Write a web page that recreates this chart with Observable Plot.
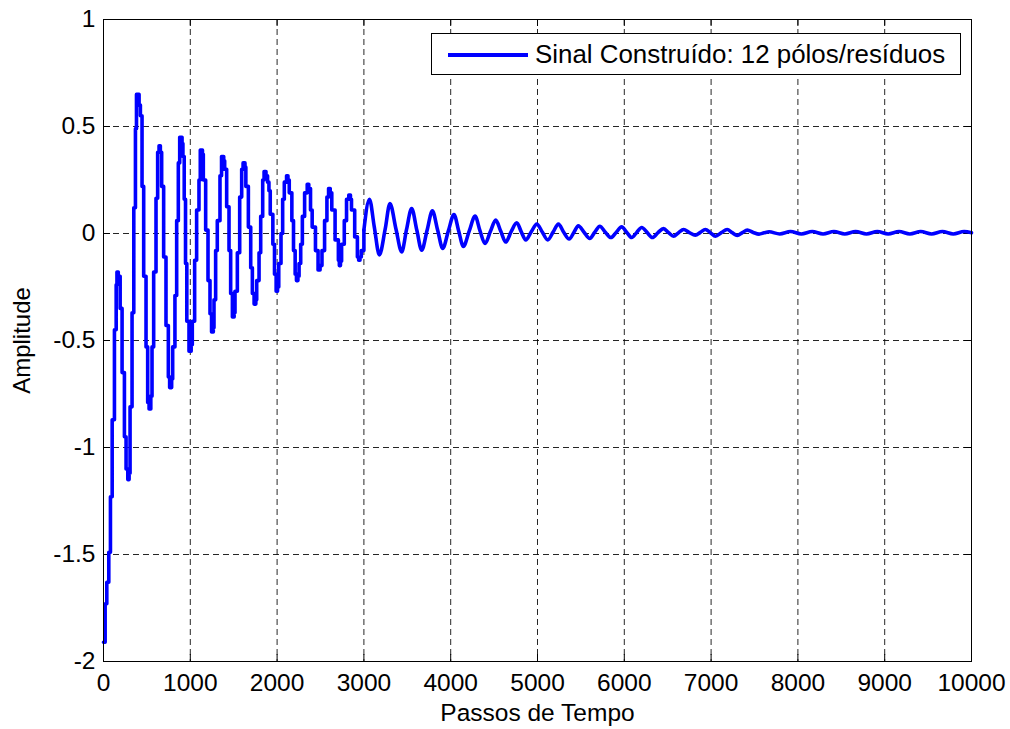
<!DOCTYPE html>
<html>
<head>
<meta charset="utf-8">
<script src="https://cdn.jsdelivr.net/npm/d3@7"></script>
<script src="https://cdn.jsdelivr.net/npm/@observablehq/plot@0.6"></script>
<style>
  html, body { margin: 0; padding: 0; background: #fff; }
  #wrap { position: relative; width: 1010px; height: 729px; font-family: "Liberation Sans", Arial, sans-serif; }
  #legend { position: absolute; left: 431px; top: 33px; width: 530px; height: 42px; box-sizing: border-box;
            border: 1px solid #000; background: #fff; }
  #legend .swatch { position: absolute; left: 16px; top: 19px; width: 80px; height: 3.5px; background: #0000ff; }
  #legend .lab { position: absolute; left: 103px; top: 0; height: 40px; line-height: 40px; font-size: 25.9px; color: #000; white-space: nowrap; }
</style>
</head>
<body>
<div id="wrap"></div>
<script>
// ---- data ----
const xTicks = [0, 1000, 2000, 3000, 4000, 5000, 6000, 7000, 8000, 9000, 10000];
const yTicks = [-2, -1.5, -1, -0.5, 0, 0.5, 1];
const xLabel = "Passos de Tempo";
const yLabel = "Amplitude";
const legendLabel = "Sinal Construído: 12 pólos/resíduos";

// early part of the signal (staircase shape), time step and amplitude
const earlySteps = [0, 19, 38, 61, 80, 100, 126, 146, 155, 170, 192, 214, 241, 260, 280, 295, 306, 329, 349, 368,
  380, 410, 425, 444, 463, 490, 509, 525, 545, 559, 578, 605, 624, 640, 655, 670, 693, 720, 747, 762,
  785, 797, 823, 843, 862, 878, 905, 915, 930, 945, 960, 985, 1010, 1023, 1050, 1073, 1100, 1115, 1140, 1150,
  1177, 1204, 1227, 1245, 1265, 1273, 1292, 1311, 1342, 1360, 1385, 1396, 1419, 1446, 1465, 1485, 1505, 1515, 1542, 1569,
  1592, 1608, 1630, 1640, 1669, 1696, 1715, 1735, 1755, 1765, 1792, 1811, 1834, 1850, 1872, 1890, 1906, 1921, 1951, 1970,
  1989, 2005, 2019, 2045, 2064, 2083, 2109, 2125, 2140, 2170, 2189, 2208, 2223, 2240, 2253, 2272, 2291, 2317, 2347, 2365,
  2385, 2404, 2442, 2472, 2495, 2517, 2547, 2574, 2593, 2612, 2630, 2668, 2706, 2717, 2730, 2743, 2774, 2800, 2826, 2845,
  2857, 2894, 2925, 2940, 2955, 2970, 3000];
const earlyValues = [-1.91, -1.73, -1.63, -1.49, -1.23, -0.87, -0.45, -0.24, -0.18, -0.20, -0.35, -0.65, -0.95, -1.10, -1.15, -1.12, -0.81, -0.37, 0.12, 0.49,
  0.65, 0.60, 0.55, 0.22, -0.20, -0.53, -0.79, -0.82, -0.76, -0.53, -0.18, 0.165, 0.38, 0.41, 0.38, 0.22, -0.11, -0.43, -0.67, -0.72,
  -0.68, -0.53, -0.29, 0.06, 0.33, 0.45, 0.42, 0.36, 0.16, -0.14, -0.41, -0.55, -0.52, -0.41, -0.125, 0.11, 0.25, 0.39, 0.37, 0.25,
  0.016, -0.22, -0.375, -0.46, -0.44, -0.31, -0.08, 0.06, 0.27, 0.36, 0.34, 0.30, 0.125, -0.08, -0.28, -0.39, -0.37, -0.27, -0.09, 0.17,
  0.30, 0.33, 0.31, 0.22, 0.03, -0.16, -0.28, -0.33, -0.31, -0.22, -0.09, 0.08, 0.25, 0.29, 0.27, 0.24, 0.20, 0.09, -0.05, -0.19,
  -0.27, -0.25, -0.14, 0.0, 0.16, 0.24, 0.27, 0.25, 0.19, 0.06, -0.08, -0.19, -0.22, -0.20, -0.14, -0.05, 0.08, 0.19, 0.23, 0.21,
  0.11, 0.03, -0.08, -0.17, -0.15, -0.08, 0.06, 0.17, 0.21, 0.19, 0.11, -0.03, -0.125, -0.15, -0.13, -0.05, 0.06, 0.16, 0.18, 0.16,
  0.11, -0.016, -0.11, -0.125, -0.11, -0.08, 0.016];

// later part of the signal (smooth decaying oscillation)
const lateSteps = [3000, 3064, 3120, 3178, 3245, 3300, 3370, 3435, 3492, 3550, 3610, 3666, 3728, 3789, 3850, 3908, 3973, 4038, 4092, 4146,
  4214, 4281, 4338, 4396, 4458, 4519, 4577, 4634, 4698, 4761, 4813, 4865, 4928, 4992, 5055, 5118, 5180, 5241, 5300, 5365,
  5420, 5470, 5536, 5602, 5660, 5718, 5782, 5846, 5908, 5969, 6027, 6085, 6143, 6201, 6262, 6324, 6388, 6452, 6510, 6567,
  6625, 6683, 6750, 6818, 6876, 6934, 6992, 7050, 7118, 7185, 7243, 7301, 7360, 7417, 7485, 7552, 7610, 7668, 7790, 7915,
  8040, 8165, 8290, 8415, 8540, 8665, 8790, 8915, 9040, 9165, 9290, 9415, 9540, 9665, 9790, 9915, 10000];
const lateValues = [0.016, 0.16, 0.03, -0.10, 0.02, 0.14, 0.02, -0.086, 0.02, 0.117, 0.015, -0.078, 0.015, 0.106, 0.015, -0.07, 0.012, 0.089, 0.012, -0.06,
  0.012, 0.081, 0.012, -0.047, 0.01, 0.0625, 0.01, -0.04, 0.01, 0.05, 0.008, -0.03, 0.008, 0.044, 0.007, -0.03, 0.007, 0.044, 0.007, -0.026,
  0.006, 0.036, 0.006, -0.023, 0.006, 0.034, 0.006, -0.019, 0.006, 0.031, 0.006, -0.019, 0.005, 0.028, 0.005, -0.019, 0.004, 0.023, 0.004, -0.0125,
  0.004, 0.019, 0.004, -0.008, 0.005, 0.019, 0.004, -0.0125, 0.004, 0.019, 0.004, -0.009, 0.004, 0.016, 0.005, -0.003, 0.003, 0.008, -0.002, 0.009,
  -0.002, 0.009, -0.002, 0.009, -0.002, 0.009, -0.002, 0.009, -0.002, 0.009, -0.002, 0.009, -0.002, 0.009, -0.002, 0.009, 0.003];

// ---- tables built from the arrays ----
const early = earlySteps.map((s, i) => ({step: s, amp: earlyValues[i]}));
const late = lateSteps.map((s, i) => ({step: s, amp: lateValues[i]}));

const blue = "#0000ff";
const chart = Plot.plot({
  width: 1010,
  height: 729,
  marginLeft: 103,
  marginRight: 39,
  marginTop: 19,
  marginBottom: 68,
  x: {domain: [xTicks[0], xTicks[xTicks.length - 1]]},
  y: {domain: [yTicks[0], yTicks[yTicks.length - 1]]},
  style: {fontFamily: "'Liberation Sans', Arial, sans-serif", fontSize: "24.5px", background: "#fff", color: "#000"},
  marks: [
    // dashed grid
    Plot.ruleX(xTicks.slice(1, -1), {stroke: "#000", strokeOpacity: 0.85, strokeWidth: 1, strokeDasharray: "6,4"}),
    Plot.ruleY(yTicks.slice(1, -1), {stroke: "#000", strokeOpacity: 0.85, strokeWidth: 1, strokeDasharray: "6,4"}),
    // inward ticks on all four sides
    Plot.ruleX(xTicks, {y1: yTicks[0], y2: yTicks[yTicks.length - 1], stroke: "#000", strokeDasharray: "7,628,7"}),
    Plot.ruleY(yTicks, {x1: xTicks[0], x2: xTicks[xTicks.length - 1], stroke: "#000", strokeDasharray: "7,854,7"}),
    // signal
    Plot.line(early, {x: "step", y: "amp", curve: "step-after", stroke: blue, strokeWidth: 3.6, strokeLinejoin: "round"}),
    Plot.line(late, {x: "step", y: "amp", curve: "monotone-x", stroke: blue, strokeWidth: 3.6, strokeLinejoin: "round"}),
    Plot.frame({stroke: "#000", strokeWidth: 1}),
    // tick labels
    Plot.axisX(xTicks, {tickSize: 0, tickPadding: 12, tickFormat: d => String(d), label: null, fontSize: 24.5}),
    Plot.axisY(yTicks, {tickSize: 0, tickPadding: 8, tickFormat: d => String(d), label: null, fontSize: 24.5}),
    // axis titles
    Plot.text([xLabel], {frameAnchor: "bottom", dy: 59, fontSize: 24.5, textAnchor: "middle"}),
    Plot.text([yLabel], {frameAnchor: "left", dx: -81, rotate: -90, fontSize: 24, textAnchor: "middle"})
  ]
});

const wrap = document.getElementById("wrap");
wrap.appendChild(chart);
const legend = document.createElement("div");
legend.id = "legend";
const sw = document.createElement("div");
sw.className = "swatch";
const lab = document.createElement("div");
lab.className = "lab";
lab.textContent = legendLabel;
legend.appendChild(sw);
legend.appendChild(lab);
wrap.appendChild(legend);
</script>
</body>
</html>
